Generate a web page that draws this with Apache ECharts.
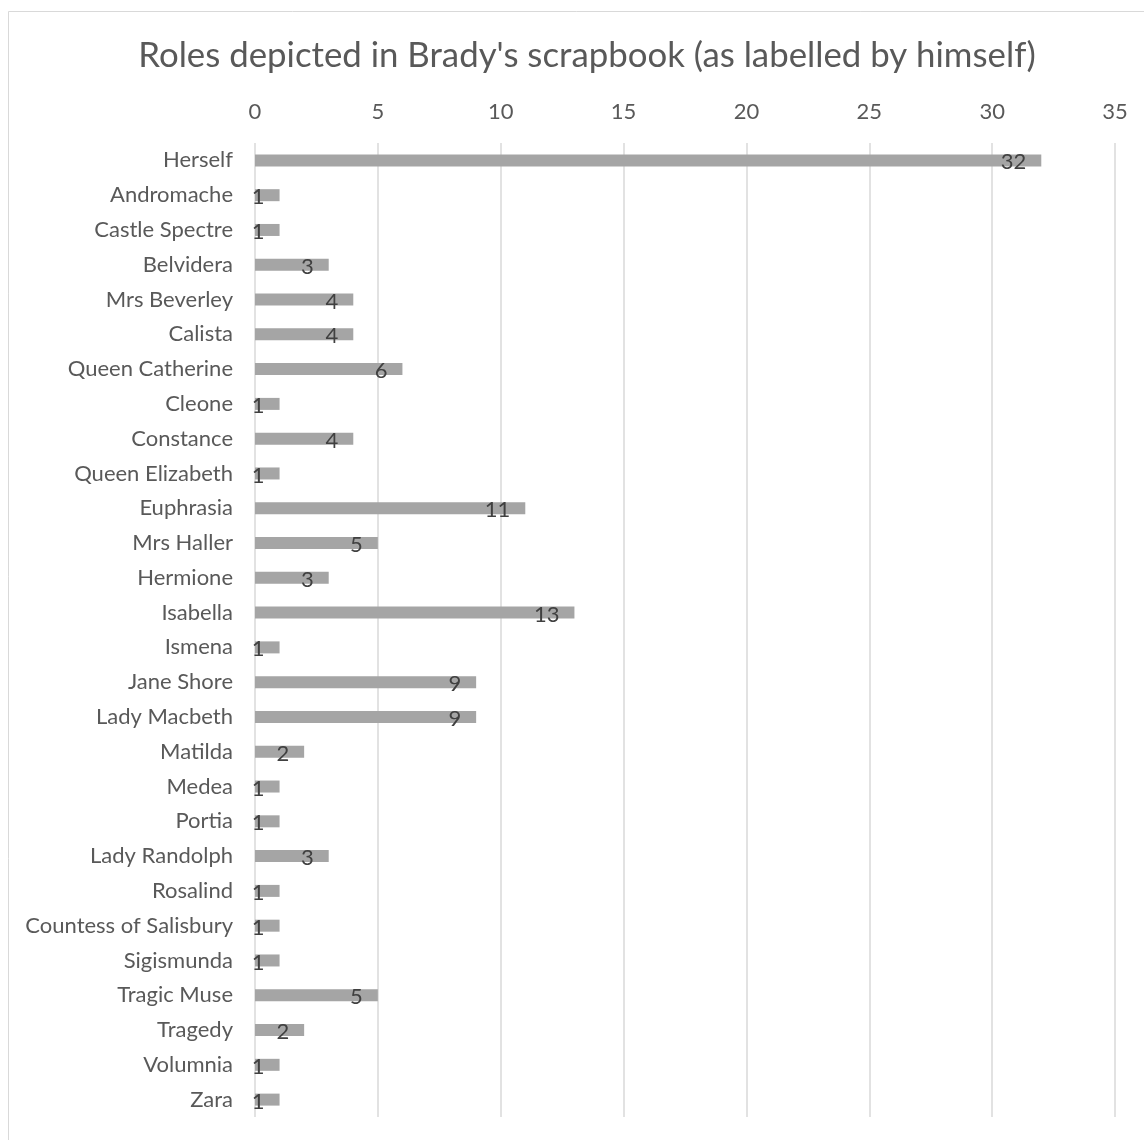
<!DOCTYPE html>
<html><head><meta charset="utf-8">
<script src="https://cdn.jsdelivr.net/npm/echarts@6/dist/echarts.min.js"></script>
<style>html,body{margin:0;padding:0;background:#fff}#c{width:1144px;height:1140px}</style>
</head><body><div id="c"></div>
<script>
const categories = ["Herself","Andromache","Castle Spectre","Belvidera","Mrs Beverley","Calista","Queen Catherine","Cleone","Constance","Queen Elizabeth","Euphrasia","Mrs Haller","Hermione","Isabella","Ismena","Jane Shore","Lady Macbeth","Matilda","Medea","Portia","Lady Randolph","Rosalind","Countess of Salisbury","Sigismunda","Tragic Muse","Tragedy","Volumnia","Zara"];
const values = [32,1,1,3,4,4,6,1,4,1,11,5,3,13,1,9,9,2,1,1,3,1,1,1,5,2,1,1];
const titleText = "Roles depicted in Brady's scrapbook (as labelled by himself)";
const FONT = "Lato";
const chart = echarts.init(document.getElementById('c'));
chart.setOption({
  animation: false,
  backgroundColor: '#fff',
  graphic: [{type:'rect', shape:{x:8.5,y:11.5,width:1200,height:1200}, style:{fill:'none',stroke:'#d9d9d9',lineWidth:1}, silent:true, z:-1}],
  title: {text: titleText, left: 582, textAlign: 'center', top: 33,
    textStyle:{fontFamily:FONT, fontSize:34.8, fontWeight:'normal', color:'#595959'}},
  grid: {left:255, right:29, top:143, bottom:23, containLabel:false},
  xAxis: {type:'value', position:'top', min:0, max:35, interval:5,
    axisLine:{show:false}, axisTick:{show:false},
    axisLabel:{fontFamily:FONT, fontSize:22, color:'#595959', margin:20},
    splitLine:{lineStyle:{color:'#d9d9d9', width:1.5}}},
  yAxis: {type:'category', data:categories, inverse:true,
    axisLine:{show:false}, axisTick:{show:false},
    axisLabel:{fontFamily:FONT, fontSize:22, color:'#595959', margin:22}},
  series: [{type:'bar', data:values, barWidth:12, itemStyle:{color:'#a5a5a5'},
    label:{show:true, position:'insideRight', distance:15, fontFamily:FONT, fontSize:22, color:'#404040', offset:[0,2]}}]
});
</script></body></html>
